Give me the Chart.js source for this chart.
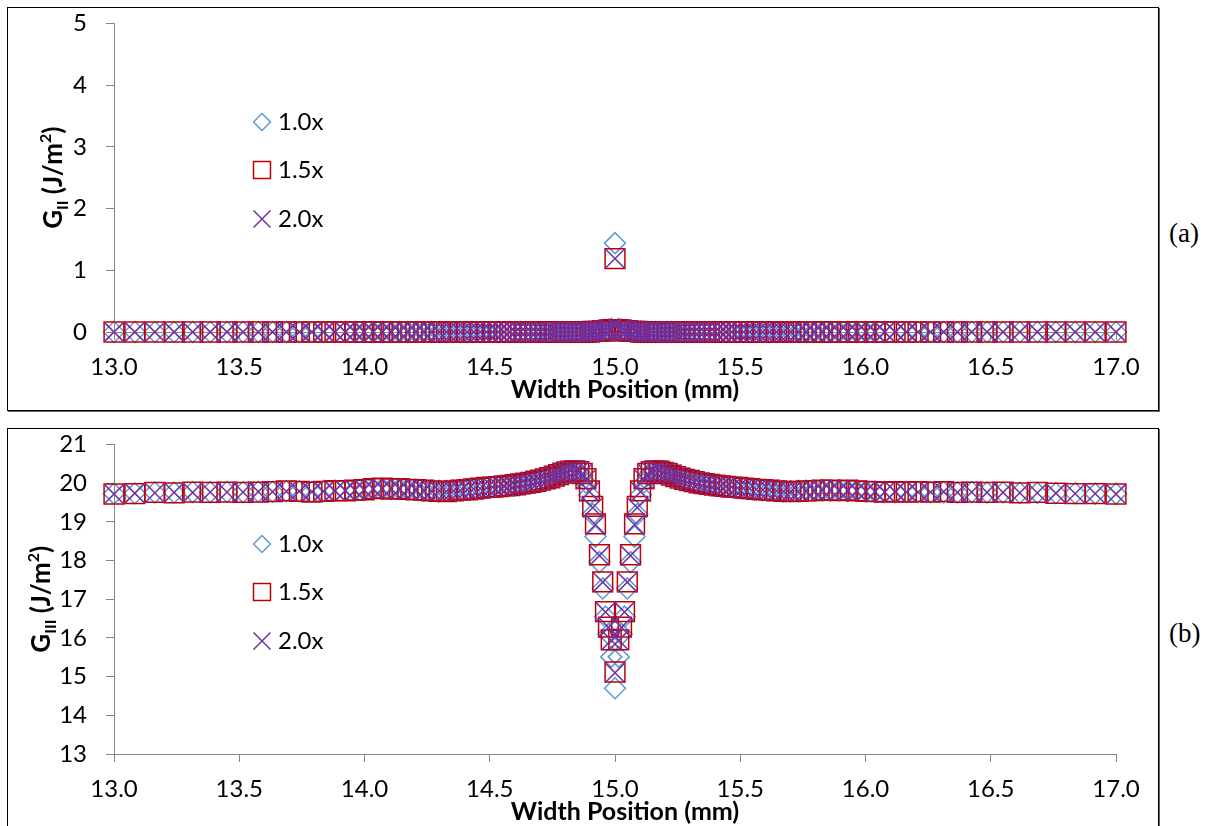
<!DOCTYPE html>
<html>
<head>
<meta charset="utf-8">
<script src="https://cdn.jsdelivr.net/npm/chart.js@4"></script>
<style>
  body { margin: 0; background: #fff; width: 1213px; height: 826px; overflow: hidden; position: relative; }
  .box { position: absolute; border: 1px solid #000; box-shadow: 1px 1px 0 #666; background: #fff; }
  canvas { position: absolute; }
  .tag { position: absolute; font-family: "Liberation Serif", "Times New Roman", serif; font-size: 27px; line-height: 31px; color: #000; }
</style>
</head>
<body>
<div class="box" style="left:7px;top:7px;width:1150px;height:402px"></div>
<canvas id="chartA" width="1150" height="401" style="left:8px;top:8px;width:1150px;height:401px"></canvas>
<div class="box" style="left:7px;top:428px;width:1150px;height:420px"></div>
<canvas id="chartB" width="1150" height="397" style="left:8px;top:429px;width:1150px;height:397px"></canvas>
<div class="tag" style="left:1169px;top:218px">(a)</div>
<div class="tag" style="left:1169px;top:618px">(b)</div>

<script>
// --- Datos: posición a lo ancho (mm) ---
const xPos = [
  13.000, 13.083, 13.163, 13.240, 13.314, 13.384, 13.451, 13.515, 13.576, 13.633,
  13.688, 13.740, 13.790, 13.837, 13.882, 13.924, 13.962, 13.998, 14.035, 14.071,
  14.106, 14.140, 14.173, 14.205, 14.237, 14.268, 14.298, 14.327, 14.355, 14.383,
  14.410, 14.436, 14.462, 14.487, 14.511, 14.535, 14.558, 14.580, 14.602, 14.623,
  14.644, 14.664, 14.684, 14.703, 14.722, 14.740, 14.758, 14.775, 14.792, 14.808,
  14.824, 14.840, 14.855, 14.869, 14.884, 14.898, 14.911, 14.922, 14.938, 14.951,
  14.962, 14.974, 14.985,
  15.000,
  15.015, 15.026, 15.038, 15.049, 15.062, 15.078, 15.089, 15.102, 15.116, 15.131,
  15.145, 15.160, 15.176, 15.192, 15.208, 15.225, 15.242, 15.260, 15.278, 15.297,
  15.316, 15.336, 15.356, 15.377, 15.398, 15.420, 15.442, 15.465, 15.489, 15.513,
  15.538, 15.564, 15.590, 15.617, 15.645, 15.673, 15.702, 15.732, 15.763, 15.795,
  15.827, 15.860, 15.894, 15.929, 15.965, 16.002, 16.038, 16.076, 16.118, 16.163,
  16.210, 16.260, 16.312, 16.367, 16.424, 16.485, 16.549, 16.616, 16.686, 16.760,
  16.837, 16.917, 17.000
];

// --- (a) G_II ---
const gII_10 = [
  0, 0, 0, 0, 0, 0, 0, 0, 0, 0,
  0, 0, 0, 0, 0, 0, 0, 0, 0, 0,
  0, 0, 0, 0, 0, 0, 0, 0, 0, 0,
  0, 0, 0, 0, 0, 0, 0, 0, 0, 0,
  0, 0, 0, 0, 0, 0, 0, 0, 0, 0,
  0, 0, 0, 0, 0, 0, 0.01, 0.01, 0.02, 0.02,
  0.03, 0.04, 0.05,
  1.44,
  0.05, 0.04, 0.03, 0.02, 0.02, 0.01, 0.01, 0, 0, 0,
  0, 0, 0, 0, 0, 0, 0, 0, 0, 0,
  0, 0, 0, 0, 0, 0, 0, 0, 0, 0,
  0, 0, 0, 0, 0, 0, 0, 0, 0, 0,
  0, 0, 0, 0, 0, 0, 0, 0, 0, 0,
  0, 0, 0, 0, 0, 0, 0, 0, 0, 0,
  0, 0, 0
];
const gII_15 = [
  0, 0, 0, 0, 0, 0, 0, 0, 0, 0,
  0, 0, 0, 0, 0, 0, 0, 0, 0, 0,
  0, 0, 0, 0, 0, 0, 0, 0, 0, 0,
  0, 0, 0, 0, 0, 0, 0, 0, 0, 0,
  0, 0, 0, 0, 0, 0, 0, 0, 0, 0,
  0, 0, 0, 0, 0, 0, 0.01, 0.01, 0.01, 0.02,
  0.02, 0.03, 0.04,
  1.19,
  0.04, 0.03, 0.02, 0.02, 0.01, 0.01, 0.01, 0, 0, 0,
  0, 0, 0, 0, 0, 0, 0, 0, 0, 0,
  0, 0, 0, 0, 0, 0, 0, 0, 0, 0,
  0, 0, 0, 0, 0, 0, 0, 0, 0, 0,
  0, 0, 0, 0, 0, 0, 0, 0, 0, 0,
  0, 0, 0, 0, 0, 0, 0, 0, 0, 0,
  0, 0, 0
];
const gII_20 = [
  0, 0, 0, 0, 0, 0, 0, 0, 0, 0,
  0, 0, 0, 0, 0, 0, 0, 0, 0, 0,
  0, 0, 0, 0, 0, 0, 0, 0, 0, 0,
  0, 0, 0, 0, 0, 0, 0, 0, 0, 0,
  0, 0, 0, 0, 0, 0, 0, 0, 0, 0,
  0, 0, 0, 0, 0, 0, 0.01, 0.01, 0.01, 0.02,
  0.02, 0.03, 0.04,
  1.19,
  0.04, 0.03, 0.02, 0.02, 0.01, 0.01, 0.01, 0, 0, 0,
  0, 0, 0, 0, 0, 0, 0, 0, 0, 0,
  0, 0, 0, 0, 0, 0, 0, 0, 0, 0,
  0, 0, 0, 0, 0, 0, 0, 0, 0, 0,
  0, 0, 0, 0, 0, 0, 0, 0, 0, 0,
  0, 0, 0, 0, 0, 0, 0, 0, 0, 0,
  0, 0, 0
];

// --- (b) G_III ---
const gIII_10 = [
  19.73, 19.74, 19.76, 19.76, 19.77, 19.77, 19.78, 19.77, 19.78, 19.78,
  19.79, 19.79, 19.78, 19.80, 19.81, 19.81, 19.82, 19.83, 19.85, 19.86,
  19.85, 19.85, 19.84, 19.83, 19.82, 19.81, 19.80, 19.80, 19.81, 19.82,
  19.84, 19.85, 19.87, 19.88, 19.90, 19.91, 19.92, 19.94, 19.95, 19.97,
  19.99, 20.01, 20.04, 20.07, 20.10, 20.13, 20.17, 20.21, 20.25, 20.28,
  20.30, 20.31, 20.28, 20.20, 20.02, 19.70, 19.20, 18.62, 17.96, 17.28,
  16.55, 16.10, 15.51,
  14.70,
  15.51, 16.10, 16.55, 17.28, 17.96, 18.62, 19.20, 19.70, 20.02, 20.20,
  20.28, 20.31, 20.30, 20.27, 20.24, 20.20, 20.16, 20.12, 20.09, 20.06,
  20.03, 20.00, 19.98, 19.96, 19.94, 19.93, 19.91, 19.90, 19.88, 19.87,
  19.85, 19.84, 19.82, 19.81, 19.80, 19.79, 19.79, 19.80, 19.81, 19.81,
  19.82, 19.81, 19.81, 19.80, 19.80, 19.79, 19.78, 19.78, 19.77, 19.78,
  19.77, 19.77, 19.77, 19.76, 19.77, 19.76, 19.76, 19.75, 19.75, 19.74,
  19.74, 19.73, 19.73
];
const gIII_15 = [
  19.72, 19.73, 19.76, 19.75, 19.77, 19.76, 19.77, 19.76, 19.77, 19.78,
  19.80, 19.79, 19.77, 19.79, 19.81, 19.80, 19.82, 19.83, 19.86, 19.87,
  19.85, 19.86, 19.84, 19.83, 19.82, 19.80, 19.79, 19.78, 19.80, 19.82,
  19.83, 19.85, 19.87, 19.89, 19.90, 19.91, 19.93, 19.94, 19.96, 19.98,
  20.00, 20.02, 20.05, 20.08, 20.11, 20.14, 20.18, 20.22, 20.26, 20.29,
  20.31, 20.32, 20.30, 20.25, 20.12, 19.80, 19.40, 18.95, 18.15, 17.45,
  16.68, 16.28, 15.95,
  15.12,
  15.95, 16.28, 16.68, 17.45, 18.15, 18.95, 19.40, 19.80, 20.12, 20.25,
  20.30, 20.32, 20.31, 20.28, 20.25, 20.21, 20.17, 20.13, 20.10, 20.07,
  20.04, 20.01, 19.99, 19.97, 19.95, 19.93, 19.92, 19.90, 19.89, 19.87,
  19.86, 19.84, 19.83, 19.82, 19.80, 19.79, 19.78, 19.79, 19.80, 19.81,
  19.82, 19.82, 19.81, 19.82, 19.80, 19.79, 19.78, 19.77, 19.78, 19.77,
  19.78, 19.77, 19.78, 19.76, 19.77, 19.76, 19.77, 19.75, 19.76, 19.74,
  19.73, 19.73, 19.72
];
const gIII_20 = [
  19.72, 19.74, 19.75, 19.76, 19.76, 19.77, 19.77, 19.77, 19.78, 19.78,
  19.79, 19.79, 19.78, 19.79, 19.80, 19.81, 19.82, 19.83, 19.85, 19.86,
  19.86, 19.85, 19.84, 19.83, 19.81, 19.80, 19.80, 19.79, 19.80, 19.81,
  19.83, 19.85, 19.86, 19.88, 19.90, 19.91, 19.92, 19.94, 19.96, 19.98,
  20.00, 20.02, 20.05, 20.08, 20.11, 20.15, 20.19, 20.23, 20.27, 20.30,
  20.32, 20.32, 20.30, 20.24, 20.10, 19.78, 19.37, 18.93, 18.13, 17.44,
  16.67, 16.27, 15.94,
  15.10,
  15.94, 16.27, 16.67, 17.44, 18.13, 18.93, 19.37, 19.78, 20.10, 20.24,
  20.30, 20.32, 20.31, 20.28, 20.25, 20.21, 20.17, 20.13, 20.10, 20.07,
  20.04, 20.01, 19.99, 19.97, 19.95, 19.93, 19.92, 19.90, 19.88, 19.87,
  19.86, 19.84, 19.83, 19.82, 19.80, 19.79, 19.78, 19.79, 19.80, 19.81,
  19.82, 19.82, 19.81, 19.81, 19.80, 19.79, 19.78, 19.77, 19.78, 19.77,
  19.77, 19.77, 19.78, 19.76, 19.77, 19.76, 19.76, 19.75, 19.75, 19.74,
  19.73, 19.73, 19.72
];

const seriesLabels = ['1.0x', '1.5x', '2.0x'];
const xRange = [13, 17];
const yRangeA = [0, 5];
const yRangeB = [13, 21];

// --- Estilos ---
const FONT = 'Lato, "Open Sans", sans-serif';
const AXIS_GREY = '#868686';
const estilos = [
  { style: 'rectRot', r: 10.5, lr: 8.5, color: '#5B9BD5', order: 3 },
  { style: 'rect', r: 14, lr: 12, color: '#C00000', order: 2 },
  { style: 'crossRot', r: 14, lr: 12, color: '#7030A0', order: 1 }
];

function puntos(vals) {
  return xPos.map((x, i) => ({ x: x, y: vals[i] }));
}

function makeDatasets(series) {
  return series.map((vals, i) => ({
    label: seriesLabels[i],
    data: puntos(vals),
    showLine: false,
    pointStyle: estilos[i].style,
    pointRadius: estilos[i].r,
    pointHoverRadius: estilos[i].r,
    pointBorderWidth: 1.5,
    borderColor: estilos[i].color,
    backgroundColor: 'rgba(0,0,0,0)',
    order: estilos[i].order,
    clip: false
  }));
}

// Título del eje Y con subíndice y superíndice
function drawYTitle(ctx, x, yc, sub) {
  const big = 'bold 26px ' + FONT, small = 'bold 16px ' + FONT;
  const parts = [
    { t: 'G', f: big, dy: 0 },
    { t: sub, f: small, dy: 6 },
    { t: ' (J/m', f: big, dy: 0 },
    { t: '2', f: small, dy: -11 },
    { t: ')', f: big, dy: 0 }
  ];
  ctx.save();
  let w = 0;
  parts.forEach(p => { ctx.font = p.f; p.w = ctx.measureText(p.t).width; w += p.w; });
  ctx.translate(x, yc);
  ctx.rotate(-Math.PI / 2);
  ctx.fillStyle = '#000';
  ctx.textBaseline = 'alphabetic';
  let cx = -w / 2;
  parts.forEach(p => { ctx.font = p.f; ctx.fillText(p.t, cx, p.dy); cx += p.w; });
  ctx.restore();
}

// Título del eje X (algo desplazado a la derecha, como en el original)
function drawXTitle(ctx, x, y) {
  ctx.save();
  ctx.font = 'bold 25px ' + FONT;
  ctx.fillStyle = '#000';
  ctx.textAlign = 'center';
  ctx.textBaseline = 'middle';
  ctx.fillText('Width Position (mm)', x, y);
  ctx.restore();
}

// Leyenda dibujada dentro del área del gráfico
function drawLegend(ctx, mx, ys) {
  ctx.save();
  estilos.forEach((e, i) => {
    ctx.strokeStyle = e.color;
    ctx.fillStyle = 'rgba(0,0,0,0)';
    ctx.lineWidth = 1.5;
    Chart.helpers.drawPoint(ctx, { pointStyle: e.style, radius: e.lr, borderWidth: 1.5, rotation: 0 }, mx, ys[i]);
    ctx.fillStyle = '#000';
    ctx.font = '24px ' + FONT;
    ctx.textBaseline = 'middle';
    ctx.textAlign = 'left';
    ctx.fillText(seriesLabels[i], mx + 16, ys[i]);
  });
  ctx.restore();
}

function buildChart(id, series, yRange, opts) {
  const extras = {
    id: 'extras_' + id,
    afterDraw(chart) {
      drawYTitle(chart.ctx, opts.titleX, (chart.chartArea.top + chart.chartArea.bottom) / 2, opts.sub);
      drawXTitle(chart.ctx, 617, opts.xTitleY);
      drawLegend(chart.ctx, 254, opts.legendY);
    }
  };
  return new Chart(document.getElementById(id).getContext('2d'), {
    type: 'scatter',
    data: { datasets: makeDatasets(series) },
    plugins: [extras],
    options: {
      responsive: false,
      animation: false,
      devicePixelRatio: 1,
      layout: { padding: { top: 15, right: 42, left: 0, bottom: 0 } },
      plugins: { legend: { display: false }, tooltip: { enabled: false } },
      scales: {
        x: {
          type: 'linear',
          min: xRange[0], max: xRange[1],
          afterFit(s) { s.height = opts.xHeight; s.paddingLeft = 0; s.paddingRight = 0; },
          ticks: {
            stepSize: 0.5, padding: 13, color: '#000',
            font: { family: FONT, size: 24 },
            callback: v => Number(v).toFixed(1)
          },
          grid: { drawOnChartArea: false, drawTicks: true, tickLength: 8, color: AXIS_GREY },
          border: { color: AXIS_GREY, width: 1 }
        },
        y: {
          min: yRange[0], max: yRange[1],
          afterFit(s) { s.width = 106; s.paddingTop = 0; s.paddingBottom = 0; },
          ticks: { stepSize: 1, padding: 19, color: '#000', font: { family: FONT, size: 24 } },
          grid: { drawOnChartArea: false, drawTicks: true, tickLength: 8, color: AXIS_GREY },
          border: { color: AXIS_GREY, width: 1 }
        }
      }
    }
  });
}

function build() {
  buildChart('chartA', [gII_10, gII_15, gII_20], yRangeA,
    { xHeight: 77, xTitleY: 382, titleX: 54, sub: 'II', legendY: [114, 162, 211] });
  buildChart('chartB', [gIII_10, gIII_15, gIII_20], yRangeB,
    { xHeight: 72, xTitleY: 383, titleX: 42, sub: 'III', legendY: [115, 163, 212] });
}

Promise.all([
  document.fonts.load('24px Lato'),
  document.fonts.load('bold 25px Lato')
]).catch(() => {}).then(build);
</script>
</body>
</html>
